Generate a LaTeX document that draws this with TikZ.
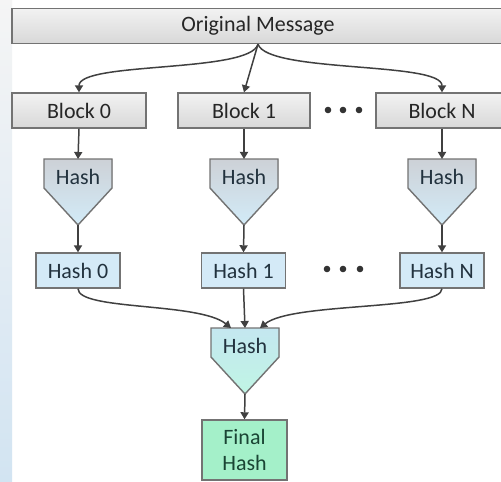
\documentclass[tikz,border=0pt]{standalone}
\usepackage{fontspec}
\setmainfont{Carlito}
\usetikzlibrary{arrows.meta}

\definecolor{linec}{HTML}{404040}
\definecolor{boxc}{HTML}{737373}
\definecolor{txtc}{HTML}{262626}
\definecolor{blkt}{HTML}{F2F2F2}
\definecolor{blkb}{HTML}{D8D8D8}
\definecolor{hsht}{HTML}{CDD1D7}
\definecolor{hshb}{HTML}{D2EBF8}
\definecolor{hashc}{HTML}{D4EAF7}
\definecolor{hashtxt}{HTML}{22323E}
\definecolor{fint}{HTML}{C4E7F0}
\definecolor{finb}{HTML}{C0F5E4}
\definecolor{finc}{HTML}{A4F0C9}
\definecolor{fintxt}{HTML}{1A4534}
\definecolor{sidec}{HTML}{D2E4F2}

\begin{document}
\begin{tikzpicture}[x=0.02cm,y=-0.02cm,line width=0.85pt,
  >={Triangle[length=4pt,width=4.6pt]},
  font=\fontsize{12.5}{15}\selectfont]
\tikzset{
  blockbox/.style={draw=boxc,line width=0.8pt,top color=blkt,bottom color=blkb,
    text=txtc,inner sep=0pt,minimum height=0.70cm},
  hashbox/.style={draw=boxc,line width=0.8pt,fill=hashc,text=hashtxt,
    inner sep=0pt,minimum width=1.68cm,minimum height=0.70cm},
  hashpent/.style={draw=boxc,line width=0.8pt,top color=hsht,bottom color=hshb},
  finalpent/.style={draw=boxc,line width=0.8pt,top color=fint,bottom color=finb},
  link/.style={draw=linec,->}}
% pentagon: name, x, top y, style
\newcommand{\hashshape}[4]{%
  \filldraw[#4] (#2-34,#3) -- (#2+34,#3) -- (#2+34,#3+29) -- (#2,#3+66)
    -- (#2-34,#3+29) -- cycle;
  \coordinate (#1-in) at (#2,#3);
  \coordinate (#1-l) at (#2-14,#3);
  \coordinate (#1-r) at (#2+15,#3);
  \coordinate (#1-out) at (#2,#3+66);
  \node[text=hashtxt] (#1) at (#2,#3+18) {Hash};}
\clip (0,0) rectangle (501,481);
\fill[white] (0,0) rectangle (501,481);
\shade[top color=white!92!gray,bottom color=sidec] (0,0) rectangle (12,481);
% ---------- message and blocks ----------
\node[blockbox,minimum width=9.84cm] (msg) at (258,26) {Original Message};
\node[blockbox,minimum width=2.68cm] (blk0) at (79,110.5) {Block 0};
\node[blockbox,minimum width=2.64cm] (blk1) at (244,110.5) {Block 1};
\node[blockbox,minimum width=2.64cm] (blkN) at (442,110.5) {Block N};
\foreach \x in {328,343,359} \fill[linec!80!black] (\x,110) circle (3.3);
\draw[link] (msg.south) .. controls +(-8,29) and +(0,-31) .. (blk0.north);
\draw[link] (msg.south) -- (blk1.north);
\draw[link] (msg.south) .. controls +(10,29) and +(0,-31) .. (blkN.north);
% ---------- per-block hashes ----------
\hashshape{h0}{78}{159}{hashpent}
\hashshape{h1}{244}{159}{hashpent}
\hashshape{hN}{442}{159}{hashpent}
\draw[link] (blk0.south) -- (h0-in);
\draw[link] (blk1.south) -- (h1-in);
\draw[link] (blkN.south) -- (hN-in);
\node[hashbox] (hash0) at (78,270.5) {Hash 0};
\node[hashbox] (hash1) at (243.5,270.5) {Hash 1};
\node[hashbox] (hashN) at (442,270.5) {Hash N};
\foreach \x in {327,343,360} \fill[linec!80!black] (\x,269) circle (3.3);
\draw[link] (h0-out) -- (hash0.north);
\draw[link] (h1-out) -- (hash1.north);
\draw[link] (hN-out) -- (hashN.north);
% ---------- final hash ----------
\hashshape{fh}{245}{328}{finalpent}
\draw[link] (hash0.south) .. controls +(0,22) and +(-32,-26) .. (fh-l);
\draw[link] (hash1.south) -- (fh-in);
\draw[link] (hashN.south) .. controls +(0,22) and +(32,-26) .. (fh-r);
\node[draw=boxc,line width=0.8pt,fill=finc,text=fintxt,align=center,inner sep=0pt,
  minimum width=1.70cm,minimum height=1.20cm] (final) at (244.5,450) {Final\\Hash};
\draw[link] (fh-out) -- (final.north);
\end{tikzpicture}
\end{document}
